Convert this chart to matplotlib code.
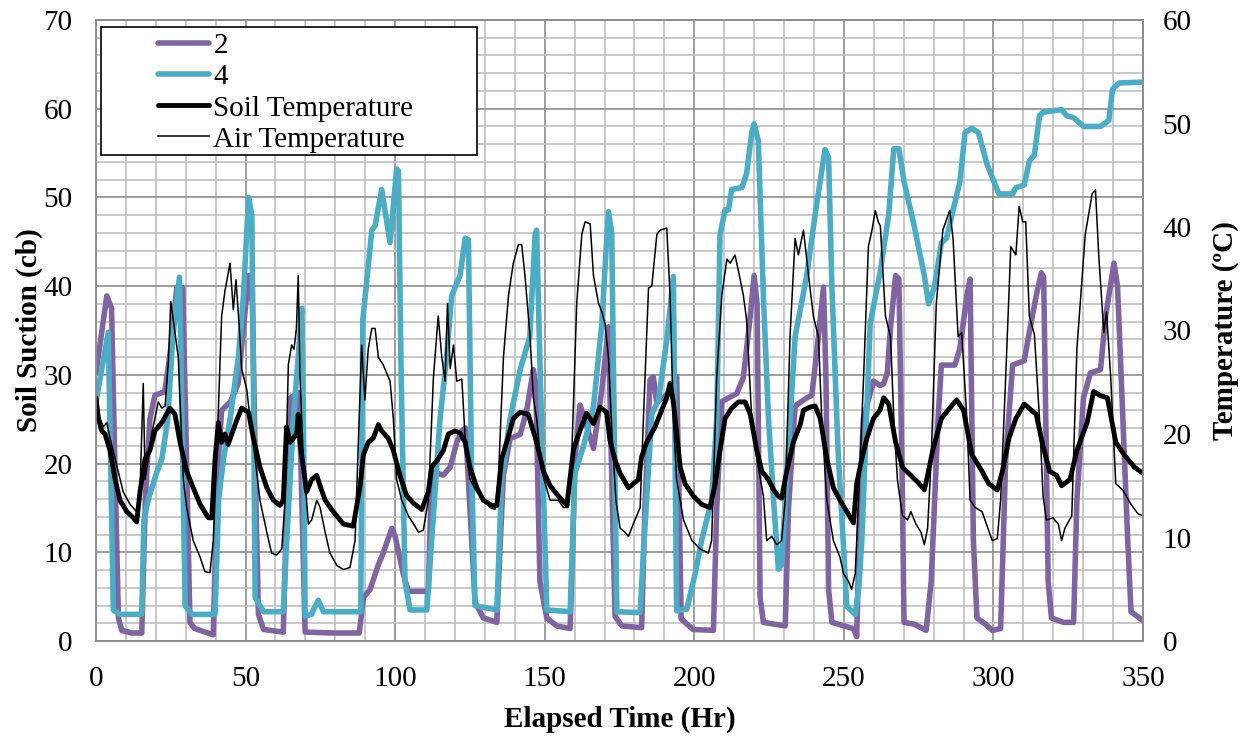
import matplotlib
matplotlib.use("Agg")
import matplotlib.pyplot as plt
from matplotlib.patches import Rectangle
from matplotlib.ticker import MultipleLocator

plt.rcParams['font.family'] = ['Liberation Serif', 'DejaVu Serif']

# --- sensor 2 (soil suction, cb) ---
h2 = [0, 3.6, 5.2, 6.3, 7.5, 8.6, 12, 15.3,
      16.5, 18, 19.7, 23, 25, 27, 29, 30.3, 31.4, 33, 39.2,
      40.2, 40.9, 42, 45, 47.5, 49.5, 51, 52.3, 53.5, 54.3, 56, 62.6,
      63.5, 65, 67.6, 68.5, 69.9, 80, 88,
      89.4, 91.6, 94.4, 96, 98.9, 100, 102.7, 104.4, 111.1,
      112.2, 116.1, 118.4, 120.6, 122.3, 123.5, 125, 126.7, 129.5, 134,
      135, 136.2, 138.4, 141.8, 144, 146.2, 147, 148.4, 150.7, 154, 158.5,
      159.3, 160.1, 161.8, 164.1, 166.3, 169.1, 171.3, 172.3, 173.5, 175.8, 182.4,
      183.5, 185.2, 186.3, 187.4, 190, 193, 194.1, 195, 195.6, 199.6, 206.4,
      207.5, 209.2, 214.2, 216.4, 218.7, 220, 221, 222, 223.1, 230.4,
      231.5, 233.7, 237.6, 239.3, 241.5, 243.2, 244, 244.9, 246, 253.2, 254.3,
      255.4, 256.5, 259.9, 262.1, 263.3, 264.5, 265.6, 267.3, 268.4, 269.6, 270.1, 273.5, 277.5,
      279.2, 281.5, 282.6, 287.1, 288.8, 291.1, 292.2, 293.3, 294.5, 297.3, 299.6, 302.4,
      304.1, 306.4, 310.3, 312, 314.3, 316, 316.8, 318.3, 319.4, 323.4, 326.8,
      327.9, 330.1, 332.4, 335.8, 337.5, 340.3, 341.5, 344.9, 346, 350]
s2 = [30.2, 38.9, 37.5, 20, 2.6, 1.2, 0.9, 0.9,
      16, 25, 27.7, 28.1, 33, 39.8, 39.8, 20, 2.1, 1.4, 0.7,
      14, 20.5, 26, 27, 29, 36, 41.2, 38, 15, 3, 1.3, 1,
      12, 27.4, 28, 20, 1, 0.9, 0.9,
      4.9, 5.8, 8.6, 9.9, 12.7, 11.8, 7.6, 5.6, 5.6,
      19.1, 18.7, 19.6, 22.4, 23.7, 24, 15, 4.4, 2.6, 2.1,
      10, 18.7, 22.8, 23.3, 26, 30.6, 29, 6.7, 2.6, 1.7, 1.4,
      10, 20.5, 26.6, 24.2, 21.7, 28.3, 35.4, 20, 2.8, 1.7, 1.5,
      15, 29.4, 29.8, 27, 27.5, 28.5, 29.8, 15, 2.5, 1.3, 1.2,
      15, 27, 27.9, 29.7, 36.6, 41.2, 38, 4.9, 2.1, 1.7,
      15, 26.5, 27.4, 27.7, 34.3, 39.9, 30, 5.8, 2.1, 1.4, 0.5,
      15.9, 25, 29.3, 28.8, 29, 30.2, 35.3, 41.2, 40.8, 15.9, 2.1, 1.9, 1.2,
      6.7, 25.1, 31.1, 31.1, 33, 38.9, 40.8, 11.3, 2.6, 1.9, 1.2, 1.4,
      20.5, 31.1, 31.6, 34.8, 38.9, 41.5, 41, 6.7, 2.6, 2.1, 2.1,
      15.9, 27.4, 30.2, 30.6, 36.6, 42.6, 39.9, 11.3, 3.3, 2.3]

# --- sensor 4 (soil suction, cb) ---
h4 = [0, 4.1, 5.8, 8, 15.3,
      16, 17.5, 20.3, 22, 24, 25.6, 27.9, 28.5, 29.8, 32, 39.8,
      41, 42.6, 44.8, 47.6, 49.3, 51, 52.1, 52.6, 53.2, 56, 62.6,
      63.7, 66, 67.6, 68.8, 69.5, 69.9, 72, 74.3, 76, 86.6, 88.5,
      89.2, 92.2, 93.3, 95.5, 98.3, 100.5, 101.1, 102, 103.3, 105, 110.6,
      112.2, 115, 117.2, 118.9, 121.7, 123.4, 124.5, 125.5, 126.7, 134,
      135.6, 138.4, 141.8, 145, 146.8, 147.3, 148.5, 150.7, 158.5,
      160.1, 162.9, 166.3, 169.1, 170.7, 171.3, 172.4, 173, 174.1, 181.9,
      183, 185.8, 188, 190.8, 193, 194.1, 197.5,
      200.3, 202.5, 205.8, 207.5, 208.6, 210.3, 211.4, 212.5, 215.9, 217.5, 219.2, 220,
      221.4, 223.1, 224.8, 226.5, 228.1, 229.2,
      230.4, 233.7, 237.6, 240.4, 243.7, 244.9, 246, 248.1, 251, 253.8,
      255, 256, 258.8, 262.2, 265, 266.7, 268.4, 270.1, 273.5, 276.9, 278.3,
      280.3, 282.6, 284.3, 288.8, 290.5, 292.8, 295, 297.9, 301.8, 306.4, 307.5,
      310.3, 312, 313.7, 315.4, 316.6, 322.8, 324.5, 326.8, 330.1, 335.8, 338.6,
      339.8, 342, 350]
s4 = [27, 34.8, 3.5, 3, 3,
      13.6, 16, 19, 20.5, 25, 34, 41, 30, 4, 3, 3,
      16, 20.5, 25, 32, 39, 50, 48, 30, 4.9, 3.3, 3.3,
      11, 25, 32, 37.5, 20, 2.8, 3, 4.6, 3.3, 3.3, 3.3,
      36.2, 46.3, 46.8, 50.9, 44.9, 53.2, 53, 30, 6.7, 3.5, 3.5,
      11.3, 25, 32, 38.9, 41.2, 45.4, 45.2, 20, 4, 3.5,
      18.2, 25, 30.6, 34.3, 45.8, 46.3, 30, 3.5, 3.3,
      18.9, 21.9, 26.4, 35.8, 45.2, 48.4, 46, 30, 3.3, 3.2,
      10, 25.6, 27.1, 33.9, 41.1, 3.4, 3.6,
      7.6, 11.4, 15.9, 25, 45.8, 48.6, 48.6, 50.9, 51.1, 52.7, 57.3, 58.3,
      56.4, 38.9, 25.1, 15.9, 8.1, 8.6,
      15.9, 34.3, 41.2, 48.1, 55.4, 54.5, 39.9, 21.2, 3.9, 3,
      6, 11.3, 35.8, 41.7, 48.1, 55.5, 55.5, 51.8, 46.8, 41.2, 38,
      39.9, 44.9, 45.4, 51.8, 57.3, 57.8, 57.3, 53.7, 50.4, 50.4, 51.1,
      51.4, 54.1, 54.8, 59.2, 59.6, 59.9, 59.2, 59, 58, 58, 58.7,
      62.2, 62.9, 63]

# --- soil temperature (C) ---
h_soil = [0, 0.8, 1.9, 3, 4.7, 6.4, 8, 10.3, 12.5, 13.6, 14.7, 16.4, 18, 19.7, 22, 24.7, 26.4,
          28.1, 30.3, 32.5, 34.8, 37.6, 38.7, 39.8, 40.9, 42, 43.1, 44.2, 45.4, 47, 48.7, 49.8,
          51, 52.6, 54.8, 57.1, 59.3, 61.5, 62.6, 63.7, 64.9, 66, 67.1, 67.6, 68.2, 70.4, 72.1,
          73.8, 74.9, 76.6, 79.3, 82.7, 86, 88.3, 89.4, 91, 92.7, 94.4, 95.5, 97.7, 99.4, 101.6,
          103.9, 106.6, 108.9, 111.1, 112.2, 113.9, 116.1, 117.8, 120, 121.7, 123.4, 125, 127.3,
          129.5, 132.3, 134, 135.6, 137.3, 139.5, 141.8, 144.5, 147.3, 149.6, 151.8, 154.6, 157.4,
          159.6, 162, 164, 166.3, 168.5, 170.7, 171.8, 173.5, 175.2, 178, 181.3, 182.4,
          184.1, 186.9, 189.1, 190.8, 191.9, 193, 195.3, 196.9, 199.7, 202.5, 204.2, 205.3, 207,
          208.6, 210.3, 212.5, 214.8, 217, 218.7, 220.9, 222.6, 224.8, 226.5, 228.1, 229.2, 230.9,
          233.1, 235.4, 236.5, 238.7, 240.4, 242.1, 244.3, 246.5, 248.7, 251, 253.2, 254.3, 256,
          257.7, 259.9, 262.1, 263.3, 265, 267.3, 269.6, 272.4, 275.2, 276.9, 278, 279.7, 282.6,
          285.4, 287.7, 290, 292.8, 296.2, 298.4, 301.3, 303, 305.2, 307.5, 310.3, 314.3, 316.6,
          318.8, 321.1, 322.8, 325.6, 327.9, 331.3, 333.5, 335.8, 338.1, 340.9, 343.7, 347.1, 350]
t_soil = [23.5, 21.5, 20.3, 20, 18.4, 15.6, 13.6, 12.5, 11.9, 11.5, 14.4, 17.6, 18.4, 20.3, 21.1, 22.5, 21.9,
          19.2, 16.4, 14.8, 13.2, 11.9, 11.9, 17.6, 21.1, 19.2, 20, 19, 20, 21.3, 22.5, 22.3,
          22.1, 19.6, 16.8, 14.8, 13.6, 13.1, 13.6, 20.7, 19.2, 19.6, 20, 21.9, 19.2, 14.4, 15.6,
          16, 15, 13.6, 12.5, 11.3, 11.1, 15, 18, 19.2, 19.6, 20.9, 20.3, 19.6, 18.4, 16,
          14, 13.2, 12.7, 14.4, 16.8, 17.4, 18.4, 20, 20.3, 20.1, 19.2, 16.8, 14.8,
          13.6, 13.1, 13.1, 17.6, 19.2, 21.5, 22.1, 21.9, 19.2, 16.4, 15, 14, 13.1,
          18.5, 20.5, 22, 21, 22.6, 22.1, 19.4, 17.5, 16.2, 14.8, 15.6, 17.8,
          19.2, 20.7, 22.3, 23.5, 24.9, 23.1, 16.8, 15.2, 14, 13.2, 13, 12.9, 15.2,
          18.4, 21.5, 22.5, 23.1, 23.1, 21.9, 18.4, 16.4, 15.6, 14.6, 14, 13.8, 16.4,
          19.2, 20.9, 22.3, 22.6, 22.7, 21.5, 17.6, 14.8, 13.6, 12.5, 11.4, 15.2, 17.6,
          19.6, 21.5, 22.3, 23.5, 22.9, 19.2, 16.8, 16, 15.2, 14.6, 16, 18.4, 21.5,
          22.5, 23.3, 22.3, 18, 16.4, 15.2, 14.6, 16.4, 19.6, 21.5, 22.9, 21.9, 18.8,
          16.4, 16, 15, 15.6, 18.4, 21.1, 24.1, 23.7, 23.5, 19.2, 18, 16.8, 16.2]

# --- air temperature (C) ---
h_air = [0, 1.3, 2.5, 3.6, 4.7, 6.4, 9.1, 11.4, 13.6, 14.7, 15.8, 16.4, 17.5, 18.6, 20.8, 22, 23.1,
         24.2, 25, 26.4, 27.5, 28.6, 29.2, 30.3, 32.5, 34.8, 36.4, 38.1, 39.2, 40.9, 42, 43.1,
         44.8, 45.9, 46.8, 48.1, 48.7, 50.4, 51.5, 53.2, 54.8, 57.1, 58.7, 60.4, 62.1, 63.2,
         64.3, 65.4, 66.2, 67, 67.6, 68.2, 69.3, 71, 72.1, 73.8, 74.9, 76.6, 78.2, 80.5, 82.7,
         84.9, 86.6, 88.8, 89.9, 91, 92.2, 93.3, 94.4, 96, 98.3, 99.4, 100.5, 102.2, 104.4,
         106.6, 107.8, 109.4, 111.1, 112.8, 114.4, 115.6, 116.7, 117.5, 118.4, 119.5, 120.6,
         122.3, 123.4, 125, 127.3, 129.5, 131.7, 133.4, 134.5, 136.2, 137.9, 139.5, 141.2,
         142.3, 143.4, 145.1, 146.2, 147.3, 149, 151.8, 154.6, 156.2, 157.9, 159, 160.7, 162.4,
         163.5, 165.2, 166.3, 168, 169.1, 170.2, 171.3, 172.5, 173.8, 175.2, 176.9, 178, 179.6,
         181.9, 183, 184.7, 185.8, 187.5, 188.6, 190.8, 191.9, 193, 194.1, 196.4, 199.2, 201.9,
         204.7, 205.8, 207.5, 209.2, 210.9, 212, 213.6, 214.8, 216.4, 217.5, 219.2, 220.9, 223.1,
         224.2, 225.9, 227.6, 229.2, 230.4, 232, 233.7, 234.8, 236.5, 238.2, 239.8, 241.5, 242.6,
         244.3, 246.5, 248.7, 249.9, 251.5, 252.6, 253.8, 254.9, 256.6, 258.2, 259.4, 260.5,
         261.5, 262.2, 263.9, 265.6, 266.7, 267.9, 269.6, 271.3, 272.4, 274.1, 275.8, 276.9, 278,
         279.2, 280.9, 283.1, 285.4, 286.5, 288.2, 289.4, 291.1, 292.2, 293.9, 296.2, 297.9,
         299.6, 301.3, 302.4, 304.1, 305.8, 307.5, 308.6, 309.8, 310.8, 312, 313.7, 315.4, 316.6,
         317.7, 319.9, 321.7, 322.8, 323.9, 326.2, 327.9, 330.7, 333, 334.1, 335.2, 336.9, 337.8,
         339.2, 340.9, 343.2, 346, 348.3, 350]
t_air = [23.5, 21.5, 20.7, 21.1, 19.6, 17.6, 14.4, 13.2, 12.5, 14.4, 24.9, 15.6, 17.6, 20, 23.1, 22.5, 22.7,
         27, 32.8, 29.8, 27.4, 19.6, 15.6, 12.9, 9.7, 8.1, 6.7, 6.6, 9.7, 22.3, 31.4, 33.8,
         36.5, 32, 34.9, 29.4, 26.3, 24.3, 21.5, 17.6, 13.6, 10.5, 8.5, 8.3, 8.9, 13.6,
         26.7, 28.6, 28.2, 30.2, 35.3, 25.5, 17.6, 11.3, 11.7, 13.6, 12.9, 10.5, 8.5, 7.3, 6.9,
         7.1, 9.7, 28.6, 23.3, 28.2, 30.2, 30.2, 27.4, 26.7, 25.1, 21.5, 15.6, 13.6, 12.1,
         11.1, 10.5, 10.7, 13.6, 25.5, 31.4, 27.4, 25.1, 32.6, 26.3, 28.6, 25.1,
         25.3, 19.6, 15.6, 14.4, 13.6, 12.9, 12.7, 15.6, 27.4, 33.4, 36.5, 38.3,
         38.3, 35.3, 29.4, 23.5, 21.5, 16.4, 13.6, 13.6, 12.9, 12.9, 17.6, 32.6, 39.3,
         40.5, 40.3, 35.3, 32.6, 31.8, 30.6, 27.4, 20, 13.6, 10.9, 10.5, 10.1, 11.3,
         12.9, 21.5, 34.1, 34.3, 39.3, 39.7, 39.9, 33.4, 21.5, 15.6, 11.7, 9.7, 8.9,
         8.5, 9.7, 25.5, 33.4, 36.9, 36.5, 37.3, 35.7, 33.4, 31, 21.5, 17.6, 14,
         9.7, 10.1, 9.3, 9.7, 13.6, 29.4, 38.9, 37.3, 39.7, 35.3, 31.4, 29.4, 21.5,
         13.6, 9.7, 8.1, 6.5, 5.8, 5, 6.5, 13.6, 25.5, 38.1, 39.7, 41.6,
         40.5, 40.1, 31.4, 29.4, 21.5, 15.6, 12.1, 11.7, 12.5, 11.3, 10.5, 9.3, 10.9,
         17.6, 32.6, 39.7, 41.6, 38.9, 29.4, 29.8, 21.5, 13.6, 12.9, 12.5, 11.1,
         9.7, 9.9, 13.6, 25.5, 38.1, 37.3, 42, 40.5, 40.5, 31.4, 29.6, 21.5, 14,
         11.7, 11.9, 11.3, 9.7, 10.9, 12.1, 28.2, 39.3, 43.2, 43.6, 37.3, 29.8, 31.8,
         25.5, 15.2, 14.6, 13.2, 12.3, 12.1]

purple = '#8064a2'
cyan = '#4bacc6'
grid_minor = '#c0c0c0'
grid_major = '#8c8c8c'

fig = plt.figure(figsize=(12.48, 7.40), dpi=100)
ax = fig.add_axes([96 / 1248, 99 / 740, 1047 / 1248, 621 / 740])
ax2 = ax.twinx()

line_kw = dict(solid_joinstyle='round', solid_capstyle='round')
ax.plot(h2, s2, color=purple, lw=4.0, label='2', **line_kw)
ax.plot(h4, s4, color=cyan, lw=4.0, label='4', **line_kw)
ax2.plot(h_soil, t_soil, color='black', lw=3.5, label='Soil Temperature', **line_kw)
ax2.plot(h_air, t_air, color='black', lw=1.1, label='Air Temperature')

ax.set_xlim(0, 350)
ax.set_ylim(0, 70)
ax2.set_ylim(0, 60)

ax.xaxis.set_major_locator(MultipleLocator(50))
ax.xaxis.set_minor_locator(MultipleLocator(10))
ax.yaxis.set_major_locator(MultipleLocator(10))
ax.yaxis.set_minor_locator(MultipleLocator(2))
ax2.yaxis.set_major_locator(MultipleLocator(10))

ax.set_axisbelow(True)
ax.grid(which='minor', color=grid_minor, lw=1.2)
ax.grid(which='major', color=grid_major, lw=1.2)

ax.tick_params(which='both', length=0, labelsize=21)
ax.tick_params(axis='x', pad=18)
ax.tick_params(axis='y', pad=17)
ax2.tick_params(length=0, labelsize=21, pad=14)

for a in (ax, ax2):
    for sp in a.spines.values():
        sp.set_color(grid_major)
        sp.set_linewidth(1.2)

ax.set_xlabel('Elapsed Time (Hr)', fontsize=21, fontweight='bold', labelpad=10)
ax.set_ylabel('Soil Suction (cb)', fontsize=21, fontweight='bold', labelpad=0)
ax2.set_ylabel('Temperature (ºC)', fontsize=21, fontweight='bold', labelpad=15)

# legend box (Excel style: white box with black border)
box = Rectangle((101 / 1248, 1 - 155 / 740), 376 / 1248, 128 / 740,
                transform=fig.transFigure, facecolor='white', edgecolor='black',
                lw=1.2, zorder=4, clip_on=False)
ax2.add_patch(box)

handles = ax.get_lines() + ax2.get_lines()
leg = ax2.legend(handles, [l.get_label() for l in handles], loc='upper left',
                 bbox_to_anchor=(158 / 1248, 1 - 33 / 740), bbox_transform=fig.transFigure,
                 frameon=False, fontsize=21, borderpad=0, borderaxespad=0,
                 labelspacing=0.16, handlelength=1.75, handletextpad=0.15)
leg.set_zorder(5)

fig.savefig('out.png', dpi=100)
